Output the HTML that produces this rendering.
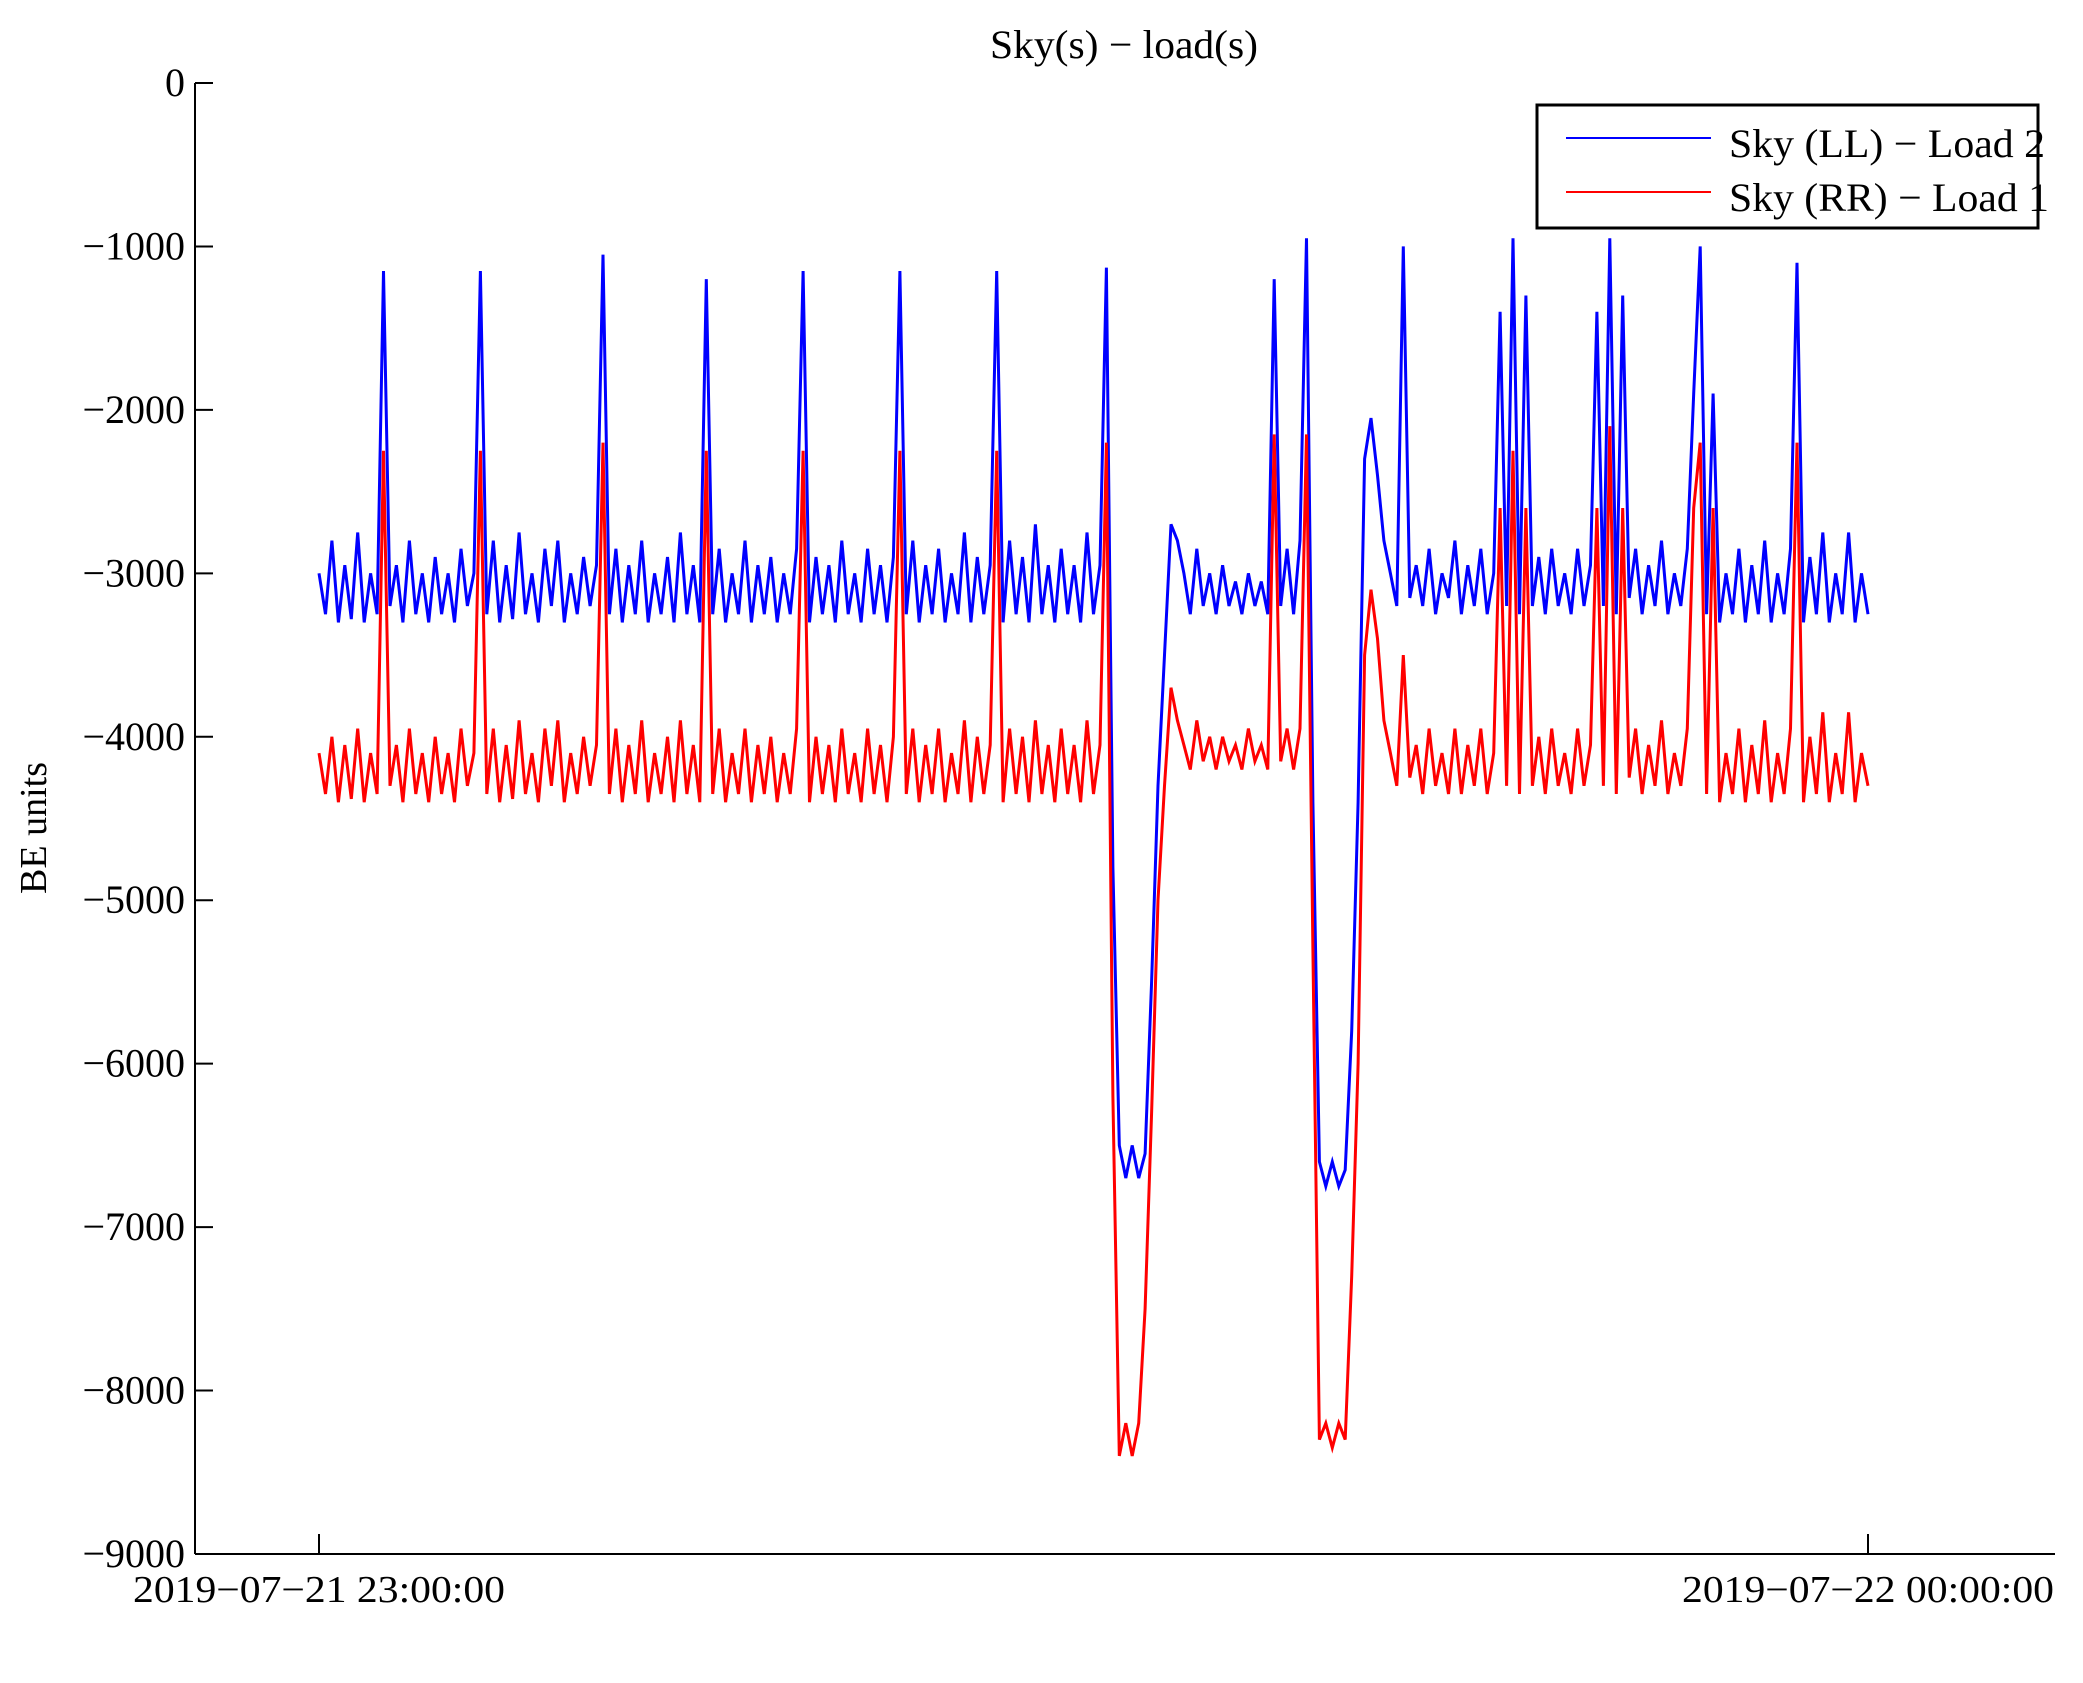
<!DOCTYPE html>
<html><head><meta charset="utf-8"><style>
html,body{margin:0;padding:0;background:#fff;}
svg{display:block;font-family:"Liberation Serif",serif;}
</style></head><body>
<svg id="chart" width="2083" height="1683" viewBox="0 0 2083 1683" xmlns="http://www.w3.org/2000/svg">
<rect x="0" y="0" width="2083" height="1683" fill="#fff"/>
<text x="1124" y="58" font-size="40" text-anchor="middle" textLength="268" lengthAdjust="spacingAndGlyphs">Sky(s) − load(s)</text>
<text transform="translate(46,828) rotate(-90)" font-size="38" text-anchor="middle">BE units</text>
<g id="yticks"></g>
<g id="xticks"></g>
<g id="series"></g>
<line x1="195" y1="83" x2="195" y2="1554" stroke="#000" stroke-width="2"/>
<line x1="195" y1="1554" x2="2055" y2="1554" stroke="#000" stroke-width="2"/>
<g>
<rect x="1537" y="105" width="501" height="123" fill="#fff" stroke="#000" stroke-width="3"/>
<line x1="1566" y1="138" x2="1711" y2="138" stroke="#00f" stroke-width="2"/>
<text x="1729" y="157" font-size="40" textLength="316" lengthAdjust="spacingAndGlyphs">Sky (LL) − Load 2</text>
<line x1="1566" y1="192" x2="1711" y2="192" stroke="#f00" stroke-width="2"/>
<text x="1729" y="211" font-size="40" textLength="320" lengthAdjust="spacingAndGlyphs">Sky (RR) − Load 1</text>
</g>
</svg>
<script>
const yTicks=[0,-1000,-2000,-3000,-4000,-5000,-6000,-7000,-8000,-9000];
const xTickMinutes=[0,60];
const xTickLabels=["2019−07−21 23:00:00","2019−07−22 00:00:00"];
const stepMinutes=0.25;
const skyLL=[-3000,-3250,-2800,-3300,-2950,-3280,-2750,-3300,-3000,-3250,
-1150,-3200,-2950,-3300,-2800,-3250,-3000,-3300,-2900,-3250,
-3000,-3300,-2850,-3200,-3000,-1150,-3250,-2800,-3300,-2950,
-3280,-2750,-3250,-3000,-3300,-2850,-3200,-2800,-3300,-3000,
-3250,-2900,-3200,-2950,-1050,-3250,-2850,-3300,-2950,-3250,
-2800,-3300,-3000,-3250,-2900,-3300,-2750,-3250,-2950,-3300,
-1200,-3250,-2850,-3300,-3000,-3250,-2800,-3300,-2950,-3250,
-2900,-3300,-3000,-3250,-2850,-1150,-3300,-2900,-3250,-2950,
-3300,-2800,-3250,-3000,-3300,-2850,-3250,-2950,-3300,-2900,
-1150,-3250,-2800,-3300,-2950,-3250,-2850,-3300,-3000,-3250,
-2750,-3300,-2900,-3250,-2950,-1150,-3300,-2800,-3250,-2900,
-3300,-2700,-3250,-2950,-3300,-2850,-3250,-2950,-3300,-2750,
-3250,-2950,-1130,-4800,-6500,-6700,-6500,-6700,-6550,-5500,
-4300,-3500,-2700,-2800,-3000,-3250,-2850,-3200,-3000,-3250,
-2950,-3200,-3050,-3250,-3000,-3200,-3050,-3250,-1200,-3200,
-2850,-3250,-2800,-950,-4400,-6600,-6750,-6600,-6750,-6650,
-5800,-4400,-2300,-2050,-2400,-2800,-3000,-3200,-1000,-3150,
-2950,-3200,-2850,-3250,-3000,-3150,-2800,-3250,-2950,-3200,
-2850,-3250,-3000,-1400,-3200,-950,-3250,-1300,-3200,-2900,
-3250,-2850,-3200,-3000,-3250,-2850,-3200,-2950,-1400,-3200,
-950,-3250,-1300,-3150,-2850,-3250,-2950,-3200,-2800,-3250,
-3000,-3200,-2850,-1900,-1000,-3250,-1900,-3300,-3000,-3250,
-2850,-3300,-2950,-3250,-2800,-3300,-3000,-3250,-2850,-1100,
-3300,-2900,-3250,-2750,-3300,-3000,-3250,-2750,-3300,-3000,-3250];
const skyRR=[-4100,-4350,-4000,-4400,-4050,-4380,-3950,-4400,-4100,-4350,
-2250,-4300,-4050,-4400,-3950,-4350,-4100,-4400,-4000,-4350,
-4100,-4400,-3950,-4300,-4100,-2250,-4350,-3950,-4400,-4050,
-4380,-3900,-4350,-4100,-4400,-3950,-4300,-3900,-4400,-4100,
-4350,-4000,-4300,-4050,-2200,-4350,-3950,-4400,-4050,-4350,
-3900,-4400,-4100,-4350,-4000,-4400,-3900,-4350,-4050,-4400,
-2250,-4350,-3950,-4400,-4100,-4350,-3950,-4400,-4050,-4350,
-4000,-4400,-4100,-4350,-3950,-2250,-4400,-4000,-4350,-4050,
-4400,-3950,-4350,-4100,-4400,-3950,-4350,-4050,-4400,-4000,
-2250,-4350,-3950,-4400,-4050,-4350,-3950,-4400,-4100,-4350,
-3900,-4400,-4000,-4350,-4050,-2250,-4400,-3950,-4350,-4000,
-4400,-3900,-4350,-4050,-4400,-3950,-4350,-4050,-4400,-3900,
-4350,-4050,-2200,-6200,-8400,-8200,-8400,-8200,-7500,-6300,
-5000,-4300,-3700,-3900,-4050,-4200,-3900,-4150,-4000,-4200,
-4000,-4150,-4050,-4200,-3950,-4150,-4050,-4200,-2150,-4150,
-3950,-4200,-3950,-2150,-5300,-8300,-8200,-8350,-8200,-8300,
-7300,-6000,-3500,-3100,-3400,-3900,-4100,-4300,-3500,-4250,
-4050,-4350,-3950,-4300,-4100,-4350,-3950,-4350,-4050,-4300,
-3950,-4350,-4100,-2600,-4300,-2250,-4350,-2600,-4300,-4000,
-4350,-3950,-4300,-4100,-4350,-3950,-4300,-4050,-2600,-4300,
-2100,-4350,-2600,-4250,-3950,-4350,-4050,-4300,-3900,-4350,
-4100,-4300,-3950,-2600,-2200,-4350,-2600,-4400,-4100,-4350,
-3950,-4400,-4050,-4350,-3900,-4400,-4100,-4350,-3950,-2200,
-4400,-4000,-4350,-3850,-4400,-4100,-4350,-3850,-4400,-4100,-4300];

const NS="http://www.w3.org/2000/svg";
const X0=319,X1=1868,Y0=83,Y1=1554;
function xScale(m){return X0+(m/60)*(X1-X0);}
function yScale(v){return Y0+(0-v)/9000*(Y1-Y0);}

const yg=document.getElementById('yticks');
yTicks.forEach(v=>{
  const y=yScale(v);
  const l=document.createElementNS(NS,'line');
  l.setAttribute('x1',195);l.setAttribute('x2',213);l.setAttribute('y1',y);l.setAttribute('y2',y);
  l.setAttribute('stroke','#000');l.setAttribute('stroke-width','2');
  
  
  yg.appendChild(l);
  const t=document.createElementNS(NS,'text');
  t.setAttribute('x',185);t.setAttribute('y',y+13);t.setAttribute('font-size','40');t.setAttribute('text-anchor','end');
  t.textContent=v===0?'0':'−'+Math.abs(v);
  
  
  yg.appendChild(t);
});
const xg=document.getElementById('xticks');
xTickMinutes.forEach((m,i)=>{
  const x=xScale(m);
  const l=document.createElementNS(NS,'line');
  l.setAttribute('x1',x);l.setAttribute('x2',x);l.setAttribute('y1',Y1-20);l.setAttribute('y2',Y1);
  l.setAttribute('stroke','#000');l.setAttribute('stroke-width','2');
  
  
  xg.appendChild(l);
  const t=document.createElementNS(NS,'text');
  t.setAttribute('x',x);t.setAttribute('y',1602);t.setAttribute('font-size','38');t.setAttribute('text-anchor','middle');
  t.setAttribute('textLength','372');t.setAttribute('lengthAdjust','spacingAndGlyphs');
  t.textContent=xTickLabels[i];
  
  
  xg.appendChild(t);
});
const sg=document.getElementById('series');
function draw(vals,color,name){
  const pts=vals.map((v,i)=>xScale(i*stepMinutes).toFixed(1)+','+yScale(v).toFixed(1)).join(' ');
  const p=document.createElementNS(NS,'polyline');
  p.setAttribute('points',pts);p.setAttribute('fill','none');p.setAttribute('stroke',color);p.setAttribute('stroke-width','3');
  
  
  sg.appendChild(p);
}
draw(skyLL,'#00f','series-sky-ll-load2');
draw(skyRR,'#f00','series-sky-rr-load1');
</script>
</body></html>
